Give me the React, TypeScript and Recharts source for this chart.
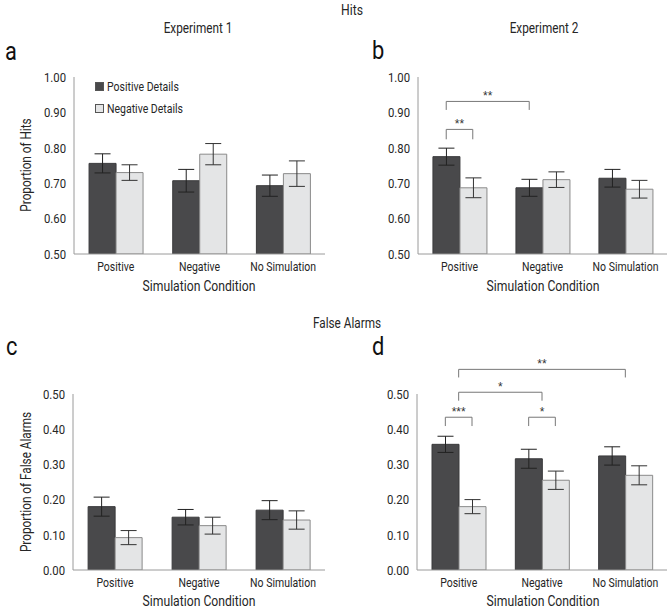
import React from 'react';
import { BarChart, Bar, XAxis, YAxis, ErrorBar, ReferenceLine, Legend } from 'recharts';

// ---------- data ----------
const categories = ['Positive', 'Negative', 'No Simulation'];
const seriesNames = ['Positive Details', 'Negative Details'];

const hitsTicks = [0.5, 0.6, 0.7, 0.8, 0.9, 1.0];
const faTicks = [0, 0.1, 0.2, 0.3, 0.4, 0.5];

// Experiment 1 - Hits
const exp1HitsPos = [0.756, 0.707, 0.693];
const exp1HitsPosErr = [0.027, 0.032, 0.030];
const exp1HitsNeg = [0.730, 0.782, 0.727];
const exp1HitsNegErr = [0.022, 0.030, 0.036];

// Experiment 2 - Hits
const exp2HitsPos = [0.775, 0.687, 0.714];
const exp2HitsPosErr = [0.024, 0.024, 0.025];
const exp2HitsNeg = [0.687, 0.710, 0.683];
const exp2HitsNegErr = [0.028, 0.022, 0.025];

// Experiment 1 - False Alarms
const exp1FAPos = [0.180, 0.150, 0.170];
const exp1FAPosErr = [0.027, 0.022, 0.027];
const exp1FANeg = [0.092, 0.126, 0.142];
const exp1FANegErr = [0.020, 0.024, 0.026];

// Experiment 2 - False Alarms
const exp2FAPos = [0.357, 0.316, 0.324];
const exp2FAPosErr = [0.023, 0.027, 0.026];
const exp2FANeg = [0.180, 0.255, 0.269];
const exp2FANegErr = [0.020, 0.026, 0.027];

// significance brackets: [categoryIndex, which bar], heights in data units
type Anchor = [number, 'dark' | 'light' | 'center'];
type Bracket = { from: Anchor; to: Anchor; top: number; foot: number; label: string };

const exp2HitsBrackets: Bracket[] = [
  { from: [0, 'dark'], to: [1, 'dark'], top: 0.931, foot: 0.907, label: '**' },
  { from: [0, 'dark'], to: [0, 'light'], top: 0.852, foot: 0.824, label: '**' },
];
const exp2FABrackets: Bracket[] = [
  { from: [0, 'center'], to: [2, 'center'], top: 0.570, foot: 0.547, label: '**' },
  { from: [0, 'center'], to: [1, 'center'], top: 0.505, foot: 0.481, label: '*' },
  { from: [0, 'dark'], to: [0, 'light'], top: 0.434, foot: 0.409, label: '***' },
  { from: [1, 'dark'], to: [1, 'light'], top: 0.434, foot: 0.409, label: '*' },
];

// ---------- styles ----------
const FONT = "Roboto, 'Liberation Sans', Arial, sans-serif";
const SX = 0.84; // horizontal condensing to mimic a condensed sans
const DARK = '#49494b';
const LIGHT = '#e4e5e6';
const AXIS = '#9a9a9a';
const TEXT = '#262626';
const CAT_GAP = 0.18;

// slot = centre of each category on a continuous 0..3 scale
const buildRows = (p: number[], pe: number[], n: number[], ne: number[]) =>
  categories.map((c, i) => ({ cat: c, slot: i + 0.5, pos: p[i], posErr: pe[i], neg: n[i], negErr: ne[i] }));

const anchorX = ([i, w]: Anchor) => {
  const off = (1 - 2 * CAT_GAP) / 4;
  return i + 0.5 + (w === 'dark' ? -off : w === 'light' ? off : 0);
};

const XTick = (props: any) => {
  const { x, y, payload } = props;
  return (
    <g transform={`translate(${x},${y})`}>
      <text transform={`scale(${SX},1)`} textAnchor="middle" dy="0.71em" fontSize={12.5} fill={TEXT} fontFamily={FONT}>
        {payload.value}
      </text>
    </g>
  );
};

const YTick = (props: any) => {
  const { x, y, payload } = props;
  return (
    <g transform={`translate(${x},${y})`}>
      <text transform={`scale(${SX},1)`} textAnchor="end" dy="0.355em" fontSize={13.5} fill={TEXT} fontFamily={FONT}>
        {Number(payload.value).toFixed(2)}
      </text>
    </g>
  );
};

const LegendContent = (props: any) => {
  const payload = [...(props.payload || [])].sort(
    (a: any, b: any) => seriesNames.indexOf(a.value) - seriesNames.indexOf(b.value)
  );
  return (
    <div style={{ fontFamily: FONT, fontSize: 12.5, color: TEXT }}>
      {payload.map((p: any, idx: number) => (
        <div key={idx} style={{ display: 'flex', alignItems: 'center', height: 22.5, whiteSpace: 'nowrap' }}>
          <span
            style={{
              display: 'inline-block',
              width: 9,
              height: 9,
              background: p.color,
              border: '1px solid #555',
              boxSizing: 'border-box',
              marginRight: 2.5,
            }}
          />
          <span style={{ display: 'inline-block', transform: `scaleX(${SX})`, transformOrigin: '0 50%' }}>{p.value}</span>
        </div>
      ))}
    </div>
  );
};

type PanelProps = {
  left: number;
  top: number;
  width: number;
  height: number;
  margin: { top: number; right: number; bottom: number; left: number };
  rows: any[];
  ticks: number[];
  brackets?: Bracket[];
  legend?: boolean;
};

const Panel = ({ left, top, width, height, margin, rows, ticks, brackets = [], legend }: PanelProps) => (
  <div style={{ position: 'absolute', left, top, width, height }}>
    <BarChart width={width} height={height} data={rows} margin={margin} barCategoryGap={`${CAT_GAP * 100}%`} barGap={0}>
      <XAxis dataKey="cat" tickLine={false} axisLine={{ stroke: AXIS }} tick={<XTick />} height={30} interval={0} />
      <XAxis xAxisId="n" dataKey="slot" type="number" domain={[0, categories.length]} allowDataOverflow hide />
      <YAxis
        domain={[ticks[0], ticks[ticks.length - 1]]}
        ticks={ticks}
        tickLine={false}
        axisLine={{ stroke: AXIS }}
        tick={<YTick />}
        width={40}
        allowDataOverflow
      />
      <Bar dataKey="pos" name={seriesNames[0]} fill={DARK} stroke="#3a3a3c" strokeWidth={1} isAnimationActive={false}>
        <ErrorBar dataKey="posErr" width={8} stroke="#222" strokeWidth={1} direction="y" isAnimationActive={false} />
      </Bar>
      <Bar dataKey="neg" name={seriesNames[1]} fill={LIGHT} stroke="#8a8a8a" strokeWidth={1} isAnimationActive={false}>
        <ErrorBar dataKey="negErr" width={8} stroke="#333" strokeWidth={1} direction="y" isAnimationActive={false} />
      </Bar>
      {brackets.map((b, k) => {
        const x1 = anchorX(b.from);
        const x2 = anchorX(b.to);
        return [
          <ReferenceLine
            key={`l${k}`}
            xAxisId="n"
            segment={[{ x: x1, y: b.foot }, { x: x1, y: b.top }]}
            stroke="#777"
            strokeWidth={1}
            ifOverflow="visible"
          />,
          <ReferenceLine
            key={`r${k}`}
            xAxisId="n"
            segment={[{ x: x2, y: b.foot }, { x: x2, y: b.top }]}
            stroke="#777"
            strokeWidth={1}
            ifOverflow="visible"
          />,
          <ReferenceLine
            key={`t${k}`}
            xAxisId="n"
            segment={[{ x: x1, y: b.top }, { x: x2, y: b.top }]}
            stroke="#777"
            strokeWidth={1}
            ifOverflow="visible"
            label={{ value: b.label, position: 'top', offset: 1, fontSize: 12, fill: '#333', fontFamily: "'Liberation Sans', Arial, sans-serif" }}
          />,
        ];
      })}
      {legend && (
        <Legend
          layout="vertical"
          align="center"
          verticalAlign="middle"
          content={<LegendContent />}
          wrapperStyle={{ left: 95, top: 75, width: 'auto', height: 'auto' }}
        />
      )}
    </BarChart>
  </div>
);

const Txt = ({ x, y, size, children }: any) => (
  <div
    style={{
      position: 'absolute',
      left: x - 150,
      top: y - size * 0.49,
      width: 300,
      textAlign: 'center',
      fontSize: size,
      lineHeight: 1,
      fontFamily: FONT,
      color: TEXT,
      whiteSpace: 'nowrap',
      transform: `scaleX(${SX})`,
      transformOrigin: '50% 50%',
    }}
  >
    {children}
  </div>
);

const Letter = ({ x, y, children }: any) => (
  <div
    style={{
      position: 'absolute',
      left: x,
      top: y,
      fontSize: 26,
      lineHeight: 1,
      fontFamily: FONT,
      color: '#111',
      transform: `scaleX(${SX})`,
      transformOrigin: '0 50%',
    }}
  >
    {children}
  </div>
);

const VTxt = ({ x, y, size, children }: any) => (
  <div
    style={{
      position: 'absolute',
      left: x - 150,
      top: y - size / 2,
      width: 300,
      height: size,
      textAlign: 'center',
      fontSize: size,
      lineHeight: 1,
      fontFamily: FONT,
      color: TEXT,
      whiteSpace: 'nowrap',
      transform: `rotate(-90deg) scaleX(${SX})`,
      transformOrigin: '50% 50%',
    }}
  >
    {children}
  </div>
);

export default function App() {
  return (
    <div style={{ position: 'absolute', left: 0, top: 0, width: 671, height: 610, background: '#fff', overflow: 'hidden' }}>
      <Panel
        left={0}
        top={0}
        width={335}
        height={300}
        margin={{ top: 77, right: 10, bottom: 16, left: 34 }}
        rows={buildRows(exp1HitsPos, exp1HitsPosErr, exp1HitsNeg, exp1HitsNegErr)}
        ticks={hitsTicks}
        legend
      />
      <Panel
        left={335}
        top={0}
        width={336}
        height={300}
        margin={{ top: 77, right: 4, bottom: 16, left: 43 }}
        rows={buildRows(exp2HitsPos, exp2HitsPosErr, exp2HitsNeg, exp2HitsNegErr)}
        ticks={hitsTicks}
        brackets={exp2HitsBrackets}
      />
      <Panel
        left={0}
        top={300}
        width={335}
        height={310}
        margin={{ top: 94, right: 10, bottom: 10, left: 33 }}
        rows={buildRows(exp1FAPos, exp1FAPosErr, exp1FANeg, exp1FANegErr)}
        ticks={faTicks}
      />
      <Panel
        left={335}
        top={300}
        width={336}
        height={310}
        margin={{ top: 94, right: 4, bottom: 10, left: 42 }}
        rows={buildRows(exp2FAPos, exp2FAPosErr, exp2FANeg, exp2FANegErr)}
        ticks={faTicks}
        brackets={exp2FABrackets}
      />

      <Txt x={352} y={11} size={14.5}>Hits</Txt>
      <Txt x={198} y={28.3} size={14}>Experiment 1</Txt>
      <Txt x={543.5} y={28.3} size={14}>Experiment 2</Txt>
      <Txt x={347} y={322.5} size={14}>False Alarms</Txt>

      <Letter x={5} y={38}>a</Letter>
      <Letter x={372} y={37}>b</Letter>
      <Letter x={6} y={333}>c</Letter>
      <Letter x={372} y={333}>d</Letter>

      <VTxt x={26} y={165} size={14}>Proportion of Hits</VTxt>
      <VTxt x={26} y={482} size={14}>Proportion of False Alarms</VTxt>

      <Txt x={199} y={287.5} size={14.5}>Simulation Condition</Txt>
      <Txt x={543} y={287.5} size={14.5}>Simulation Condition</Txt>
      <Txt x={199} y={602.5} size={14.5}>Simulation Condition</Txt>
      <Txt x={543} y={602.5} size={14.5}>Simulation Condition</Txt>
    </div>
  );
}
